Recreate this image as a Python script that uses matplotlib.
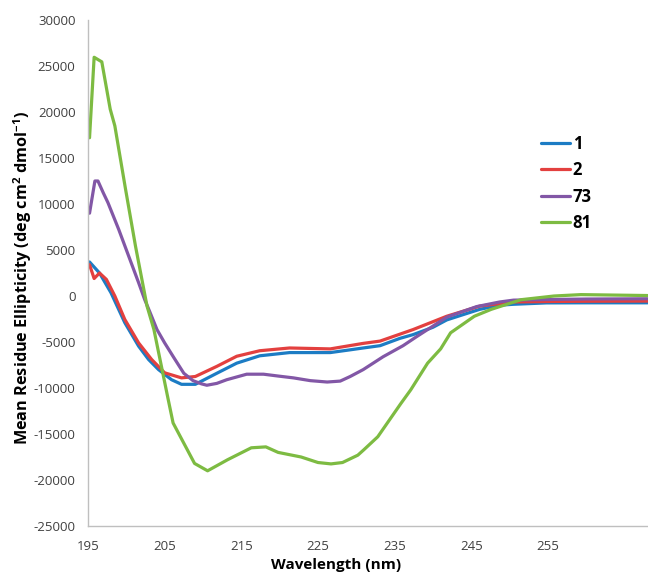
import matplotlib
matplotlib.use("Agg")
import matplotlib.pyplot as plt

# ==================================
# DATA
# ==================================

labels = ["1", "2", "73", "81"]
colors = ["#1C7CC4", "#E3403F", "#8257A6", "#7DBB42"]

wl_1 = [195.2, 196.5, 198.0, 199.8, 201.6, 202.9, 204.2, 205.9, 207.2, 209.0,
        211.8, 214.4, 217.4, 221.3, 226.6, 229.2, 230.9, 233.1, 235.7, 237.4,
        240.0, 241.8, 244.4, 246.1, 248.7, 250.5, 254.8, 260.0, 268.0]
mre_1 = [3700, 2500, 350, -2900, -5450, -6900, -8000, -9100, -9600, -9600,
         -8400, -7300, -6500, -6150, -6150, -5850, -5650, -5400, -4600, -4200,
         -3400, -2600, -1900, -1450, -1000, -900, -750, -740, -740]

wl_2 = [195.2, 195.8, 196.5, 197.4, 198.5, 199.8, 201.6, 203.3, 205.0, 207.2,
        209.0, 211.8, 214.4, 217.4, 221.3, 226.6, 230.9, 233.1, 237.4, 241.8,
        246.1, 250.5, 255.0, 260.0, 268.0]
mre_2 = [3400, 1900, 2500, 1800, 0, -2550, -5100, -6900, -8350, -8900,
         -8750, -7650, -6550, -5950, -5650, -5750, -5150, -4900, -3650, -2200,
         -1100, -650, -600, -570, -550]

wl_73 = [195.2, 195.9, 196.3, 197.0, 197.6, 199.0, 200.3, 201.6, 202.4, 203.1,
         204.0, 205.0, 206.2, 207.5, 208.7, 209.8, 210.5, 211.8, 213.1, 215.7,
         217.9, 219.8, 221.8, 224.0, 226.2, 227.9, 229.2, 230.9, 233.5, 236.1,
         237.9, 241.8, 245.7, 248.7, 250.5, 255.0, 260.0, 268.0]
mre_73 = [9000, 12500, 12500, 11200, 10150, 7250, 4350, 1450, -400, -1800,
          -3650, -5100, -6700, -8400, -9200, -9550, -9700, -9500, -9100, -8500,
          -8500, -8700, -8900, -9200, -9350, -9250, -8750, -8000, -6600, -5400,
          -4400, -2300, -1150, -650, -450, -380, -330, -300]

wl_81 = [195.2, 195.8, 196.8, 197.9, 198.5, 199.9, 201.2, 202.7, 203.6, 205.4,
         206.1, 207.5, 208.9, 210.6, 213.2, 216.3, 218.2, 219.8, 222.8, 225.0,
         226.7, 228.2, 230.2, 231.0, 232.8, 235.8, 237.1, 239.3, 241.0, 242.3,
         245.4, 247.6, 251.5, 255.8, 259.3, 268.0]
mre_81 = [17200, 25950, 25450, 20300, 18500, 11600, 5400, -1100, -3650, -11000,
          -13800, -16000, -18200, -19000, -17800, -16500, -16400, -17000, -17500, -18100,
          -18250, -18100, -17300, -16700, -15300, -11700, -10200, -7300, -5750, -4000,
          -2200, -1450, -400, 0, 150, 50]

series = [(wl_1, mre_1), (wl_2, mre_2), (wl_73, mre_73), (wl_81, mre_81)]

x_ticks = [195, 205, 215, 225, 235, 245, 255]
y_ticks = list(range(-25000, 30001, 5000))

# ==================================
# STYLE
# ==================================

plt.rcParams["font.family"] = ["Open Sans", "DejaVu Sans"]
plt.rcParams["axes.unicode_minus"] = False
plt.rcParams["mathtext.fontset"] = "custom"
plt.rcParams["mathtext.rm"] = "Open Sans"
plt.rcParams["mathtext.bf"] = "Open Sans:bold"
plt.rcParams["mathtext.default"] = "bf"

fig = plt.figure(figsize=(6.48, 5.77), dpi=100)
ax = fig.add_axes([88 / 648, 1 - 526 / 577, 1 - 88 / 648, (526 - 20) / 577])

for (wl, mre), label, color in zip(series, labels, colors):
    ax.plot(wl, mre, color=color, linewidth=2.3, label=label,
            solid_capstyle="round", solid_joinstyle="round")

ax.set_xlim(195, 268.05)
ax.set_ylim(-25000, 30000)
ax.set_xticks(x_ticks)
ax.set_yticks(y_ticks)
ax.tick_params(length=0, labelsize=9.5, labelcolor="#404040")
ax.tick_params(axis="x", pad=10)
ax.tick_params(axis="y", pad=9)

for side in ["top", "right"]:
    ax.spines[side].set_visible(False)
for side in ["left", "bottom"]:
    ax.spines[side].set_color("#BFBFBF")
    ax.spines[side].set_linewidth(1.0)

ax.set_xlabel("Wavelength (nm)", fontsize=11, fontweight="bold")
ax.xaxis.set_label_coords((336 - 88) / 560, -(558 - 526) / 506)

ax.set_ylabel(r"Mean Residue Ellipticity (deg cm$^{2}$ dmol$^{-1}$)",
              fontsize=11.7, fontweight="bold")
ax.yaxis.set_label_coords((34 - 88) / 560, 0.49)

ax.legend(
    loc="upper left",
    bbox_to_anchor=((541 - 88) / 560, (526 - 135) / 506),
    frameon=False,
    prop={"weight": "bold", "size": 12},
    handlelength=1.75,
    handletextpad=0.15,
    labelspacing=0.5,
    borderpad=0,
    borderaxespad=0,
)

fig.savefig("out.png", dpi=100)
